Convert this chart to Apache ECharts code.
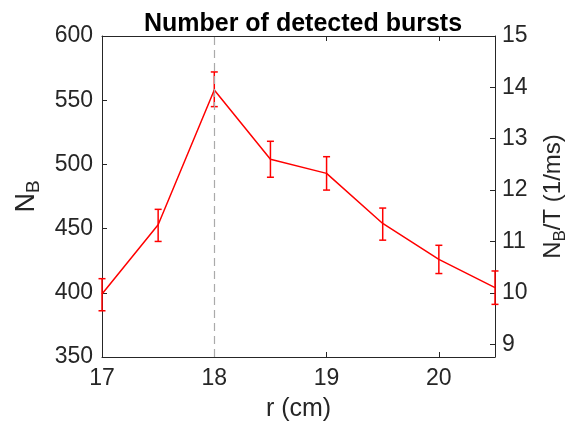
<!DOCTYPE html>
<html>
<head>
<meta charset="utf-8">
<script src="https://cdn.jsdelivr.net/npm/echarts@6/dist/echarts.min.js"></script>
<style>html,body{margin:0;padding:0;background:#fff}#c{width:570px;height:424px}</style>
</head>
<body>
<div id="c"></div>
<script>
const radius = [17, 17.5, 18, 18.5, 19, 19.5, 20, 20.5];
const bursts = [399, 453, 558, 504, 493, 454, 426, 404];
const errLow = [386, 440, 545, 490, 480, 441, 415, 391];
const errHigh = [411, 465, 572, 518, 506, 466, 437, 417];
const xTicks = [17, 18, 19, 20];
const leftTicks = [350, 400, 450, 500, 550, 600];
const rightTicks = [9, 10, 11, 12, 13, 14, 15];
const T = 40; // ms, N_B/T scale

const lineData = radius.map((r, i) => [r, bursts[i]]);
const errData = radius.map((r, i) => [r, errLow[i], errHigh[i]]);

const font = 'Liberation Sans, Arial, Helvetica, sans-serif';
const txt = '#262626';
const chart = echarts.init(document.getElementById('c'), null, {renderer: 'canvas'});
chart.setOption({
  animation: false,
  title: {
    text: 'Number of detected bursts',
    left: 298, textAlign: 'center', top: 7,
    textStyle: {fontFamily: font, fontSize: 25, fontWeight: 'bold', color: '#000'}
  },
  grid: {left: 102, right: 75, top: 36, bottom: 67, containLabel: false, outerBoundsMode: 'none'},
  xAxis: [{
    type: 'value', min: 17, max: 20.5, interval: 1,
    name: 'r (cm)', nameLocation: 'middle', nameGap: 40,
    nameTextStyle: {fontFamily: font, fontSize: 25, color: txt},
    axisLine: {show: true, onZero: false, lineStyle: {color: txt, width: 1}},
    axisTick: {show: true, inside: true, length: 5, lineStyle: {color: txt}},
    axisLabel: {fontFamily: font, fontSize: 23, color: txt, margin: 10,
      customValues: xTicks},
    splitLine: {show: false}
  }, {
    type: 'value', min: 17, max: 20.5, interval: 1, position: 'top',
    axisLine: {show: true, onZero: false, lineStyle: {color: txt, width: 1}},
    axisTick: {show: true, inside: true, length: 5, lineStyle: {color: txt}},
    axisLabel: {show: false}, splitLine: {show: false}
  }],
  yAxis: [{
    type: 'value', min: 350, max: 600, interval: 50, position: 'left',
    name: '{n|N}{s|B}', nameLocation: 'middle', nameGap: 55,
    nameTextStyle: {fontFamily: font, color: txt,
      rich: {n: {fontFamily: font, fontSize: 27, color: txt},
             s: {fontFamily: font, fontSize: 19, color: txt, padding: [16, 0, 0, 0]}}},
    axisLine: {show: true, onZero: false, lineStyle: {color: txt, width: 1}},
    axisTick: {show: true, inside: true, length: 5, lineStyle: {color: txt}},
    axisLabel: {fontFamily: font, fontSize: 23, color: txt, margin: 9,
      customValues: leftTicks},
    splitLine: {show: false}
  }, {
    type: 'value', min: 350 / T, max: 600 / T, position: 'right',
    name: '{n|N}{s|B}{n|/T (1/ms)}', nameLocation: 'middle', nameGap: 43,
    nameRotate: 90,
    nameTextStyle: {fontFamily: font, color: txt,
      rich: {n: {fontFamily: font, fontSize: 24, color: txt},
             s: {fontFamily: font, fontSize: 17, color: txt, padding: [14, 0, 0, 0]}}},
    axisLine: {show: true, onZero: false, lineStyle: {color: txt, width: 1}},
    axisTick: {show: true, inside: true, length: 5, lineStyle: {color: txt},
      customValues: rightTicks},
    axisLabel: {fontFamily: font, fontSize: 23, color: txt, margin: 7,
      customValues: rightTicks},
    splitLine: {show: false}
  }],
  series: [{
    type: 'line', data: lineData, xAxisIndex: 0, yAxisIndex: 0,
    symbol: 'none', lineStyle: {color: '#ff0000', width: 1.5},
    markLine: {
      silent: true, symbol: ['none', 'none'], label: {show: false},
      lineStyle: {color: '#aaaaaa', type: [8, 5], width: 1.2},
      data: [{xAxis: 18}]
    },
    z: 3
  }, {
    type: 'custom', xAxisIndex: 0, yAxisIndex: 0, data: errData,
    renderItem: function (params, api) {
      const x = api.value(0);
      const lo = api.coord([x, api.value(1)]);
      const hi = api.coord([x, api.value(2)]);
      const w = 3.5;
      const style = {stroke: '#ff0000', lineWidth: 1.5, fill: null};
      return {type: 'group', children: [
        {type: 'line', shape: {x1: lo[0], y1: lo[1], x2: hi[0], y2: hi[1]}, style: style},
        {type: 'line', shape: {x1: lo[0] - w, y1: lo[1], x2: lo[0] + w, y2: lo[1]}, style: style},
        {type: 'line', shape: {x1: hi[0] - w, y1: hi[1], x2: hi[0] + w, y2: hi[1]}, style: style}
      ]};
    },
    clip: false, z: 4
  }]
});
</script>
</body>
</html>
